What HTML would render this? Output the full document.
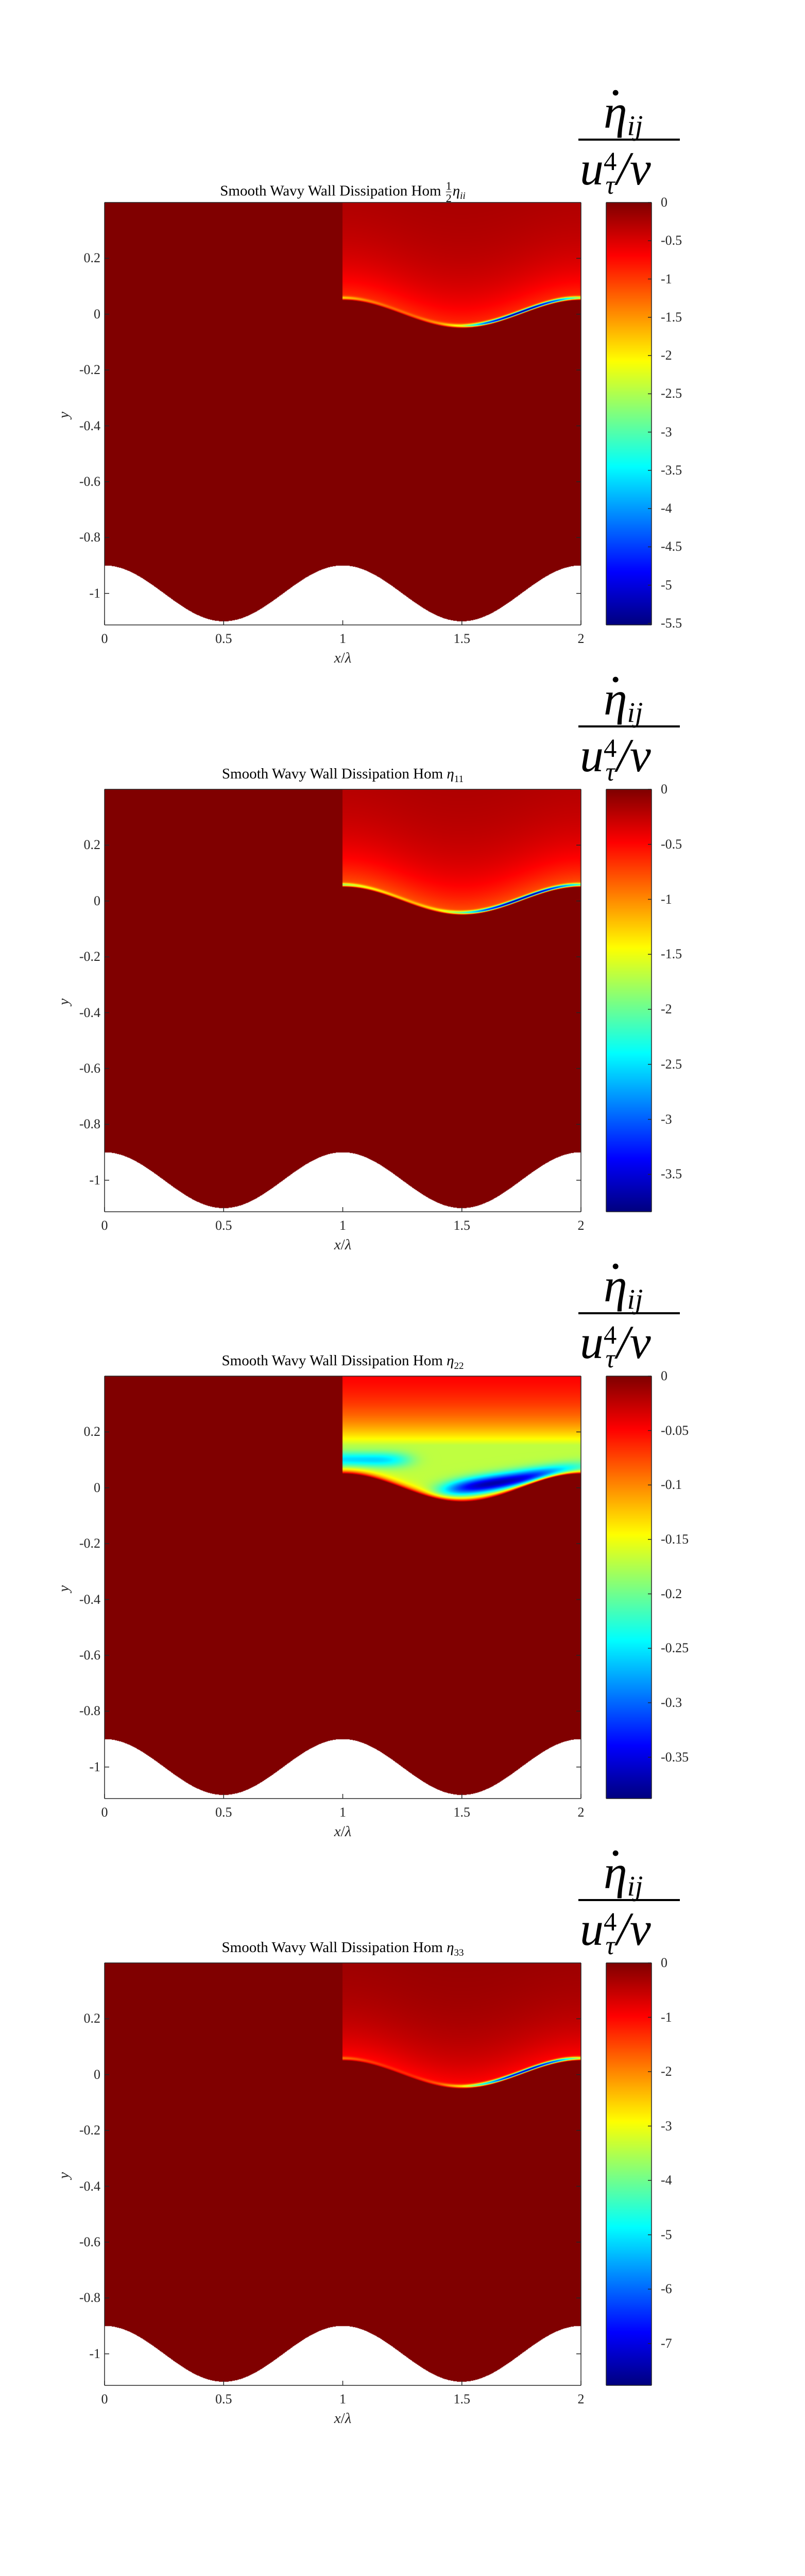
<!DOCTYPE html>
<html><head><meta charset="utf-8">
<style>
html,body{margin:0;padding:0;background:#fff;}
html{width:1563px;height:5208px;overflow:hidden;}
body{width:1563px;height:5208px;position:relative;overflow:hidden;font-family:"Liberation Serif","DejaVu Serif",serif;}
.abs{position:absolute;}
canvas{position:absolute;}
.t{position:absolute;color:#262626;font-size:26px;white-space:nowrap;line-height:1;}
.title{position:absolute;font-size:29px;white-space:nowrap;color:#000;line-height:1;transform:translateX(-50%);}
.cbl{position:absolute;font-style:italic;color:#000;white-space:nowrap;line-height:1;}
</style></head><body>
<div id="root"></div>
<script>
// ---- data ----
const panelTops = [393, 1532, 2671, 3810];
const xTicks = [0, 0.5, 1, 1.5, 2];
const xTickLabels = ["0", "0.5", "1", "1.5", "2"];
const yTicks = [0.2, 0, -0.2, -0.4, -0.6, -0.8, -1];
const yTickLabels = ["0.2", "0", "-0.2", "-0.4", "-0.6", "-0.8", "-1"];
const cMins = [-5.52, -3.84, -0.388, -7.77];
const cbTicks1 = [0,-0.5,-1,-1.5,-2,-2.5,-3,-3.5,-4,-4.5,-5,-5.5];
const cbTicks2 = [0,-0.5,-1,-1.5,-2,-2.5,-3,-3.5];
const cbTicks3 = [0,-0.05,-0.1,-0.15,-0.2,-0.25,-0.3,-0.35];
const cbTicks4 = [0,-1,-2,-3,-4,-5,-6,-7];
const cbTickSets = [cbTicks1, cbTicks2, cbTicks3, cbTicks4];
// near-wall band strength sampled at x = 1.0,1.1,...,2.0
const bandX = [1.0,1.1,1.2,1.3,1.4,1.5,1.6,1.7,1.8,1.9,2.0];
const band1 = [-1.5,-1.1,-0.9,-0.9,-1.2,-2.0,-4.3,-5.5,-5.4,-4.2,-2.2];
const band2 = [-1.6,-1.2,-1.0,-0.9,-1.1,-1.8,-3.0,-3.75,-3.7,-3.0,-1.9];
const band4 = [-1.5,-1.1,-0.9,-0.9,-1.3,-2.5,-5.0,-7.2,-7.6,-6.0,-3.0];
const bands = [band1, band2, null, band4];
// outer-region values: [top value, near-wall value]
const outer1 = [-0.2, -1.0];
const outer2 = [-0.15, -0.85];
const outer4 = [-0.15, -1.1];
const outers = [outer1, outer2, null, outer4];
// panel 3 blobs: [xc, yc, amp, sx, sy, slope]
const blob3a = [1.08, 0.10, -0.09, 0.2, 0.028, 0.0];
const blob3b = [1.72, 0.025, -0.21, 0.3, 0.032, 0.12];

// ---- geometry ----
const L=203, R=1128, W=R-L, H=820, YMAX=0.4, YMIN=-1.113;
const CBL=1177, CBR=1265;
function sx(x){return L + x/2*W;}
function sy(y,T){return T + (YMAX-y)/(YMAX-YMIN)*H;}
function jet(t){
  t=Math.max(0,Math.min(1,t));
  const c=v=>Math.max(0,Math.min(1,v));
  return [c(1.5-Math.abs(4*t-3)),c(1.5-Math.abs(4*t-2)),c(1.5-Math.abs(4*t-1))];
}
function interp(xs,vs,x){
  if(x<=xs[0])return vs[0];
  for(let i=1;i<xs.length;i++){ if(x<=xs[i]){const f=(x-xs[i-1])/(xs[i]-xs[i-1]);return vs[i-1]*(1-f)+vs[i]*f;} }
  return vs[vs.length-1];
}
function wallY(x){return -1+0.1*Math.cos(2*Math.PI*x);}
function bY(x){return 0.05*Math.cos(2*Math.PI*x);}
function field(p,x,y){
  if(x<1) return 0;
  const u=y-bY(x);
  if(u<0) return 0;
  if(p===2){
    let v=Math.max(-0.17,-0.03-0.5*Math.exp(-y/0.12));
    for(const b of [blob3a,blob3b]){
      const dx=(x-b[0])/b[3], dy=(y-(b[1]+b[5]*(x-b[0])))/b[4];
      v+=b[2]*Math.exp(-dx*dx*dx*dx-dy*dy);
    }
    return v*(1-Math.exp(-u/0.012));
  }
  const o=outers[p];
  let v=o[0]+(o[1]-o[0])*Math.exp(-u/0.14);
  const a=interp(bandX,bands[p],x);
  const d=(u-0.008)/0.006;
  v+= (a-o[1]*0.5)*Math.exp(-d*d);
  v*= (1-Math.exp(-u/0.003));
  return v;
}

const root=document.getElementById('root');
function mk(tag,name,inter,parent){
  const e=document.createElement(tag);
  
  
  (parent||root).appendChild(e); return e;
}
const titles=[
 'Smooth Wavy Wall Dissipation Hom <span style="display:inline-block;vertical-align:middle;text-align:center;font-size:22px;line-height:1.05;margin:0 2px"><span style="display:block">1</span><span style="display:block;border-top:1.5px solid #000">2</span></span><i>η</i><sub style="font-size:19px"><i>ii</i></sub>',
 'Smooth Wavy Wall Dissipation Hom <i>η</i><sub style="font-size:19px">11</sub>',
 'Smooth Wavy Wall Dissipation Hom <i>η</i><sub style="font-size:19px">22</sub>',
 'Smooth Wavy Wall Dissipation Hom <i>η</i><sub style="font-size:19px">33</sub>'
];

panelTops.forEach((T,p)=>{
  const panel=mk('div','panel-'+(p+1),'false');
  const cv=mk('canvas','heatmap-'+(p+1),'false',panel);
  cv.width=W; cv.height=H; cv.style.left=L+'px'; cv.style.top=T+'px';
  const ctx=cv.getContext('2d'); const img=ctx.createImageData(W,H);
  const cmin=cMins[p];
  for(let j=0;j<H;j++){
    const y=YMAX-(j+0.5)/H*(YMAX-YMIN);
    for(let i=0;i<W;i++){
      const x=(i+0.5)/W*2; const k=(j*W+i)*4;
      if(y<wallY(x)){img.data[k]=255;img.data[k+1]=255;img.data[k+2]=255;img.data[k+3]=255;continue;}
      const v=field(p,x,y); const c=jet((v-cmin)/(0-cmin));
      img.data[k]=c[0]*255;img.data[k+1]=c[1]*255;img.data[k+2]=c[2]*255;img.data[k+3]=255;
    }
  }
  ctx.putImageData(img,0,0);
  const cb=mk('canvas','colorbar-'+(p+1),'false',panel);
  cb.width=CBR-CBL; cb.height=H; cb.style.left=CBL+'px'; cb.style.top=T+'px';
  const c2=cb.getContext('2d');
  for(let j=0;j<H;j++){const c=jet(1-(j+0.5)/H);c2.fillStyle='rgb('+(c[0]*255|0)+','+(c[1]*255|0)+','+(c[2]*255|0)+')';c2.fillRect(0,j,CBR-CBL,1);}
  const NS='http://www.w3.org/2000/svg';
  const svg=document.createElementNS(NS,'svg');
  
  
  svg.setAttribute('width',1563);svg.setAttribute('height',H+20);
  svg.style.position='absolute';svg.style.left='0';svg.style.top=(T-10)+'px';
  panel.appendChild(svg);
  const ln=(x1,y1,x2,y2,name,w)=>{const l=document.createElementNS(NS,'line');
    
    
    l.setAttribute('x1',x1);l.setAttribute('y1',y1-T+10);l.setAttribute('x2',x2);l.setAttribute('y2',y2-T+10);
    l.setAttribute('stroke','#262626');l.setAttribute('stroke-width',w||1.5);svg.appendChild(l);};
  ln(L,T,L,T+H,'y-axis-line');ln(L,T+H,R,T+H,'x-axis-line');ln(R,T,R,T+H,'right-axis-line');ln(L,T,R,T,'top-axis-line');
  ln(CBL,T,CBL,T+H,'colorbar-border');ln(CBR,T,CBR,T+H,'colorbar-border');ln(CBL,T,CBR,T,'colorbar-border');ln(CBL,T+H,CBR,T+H,'colorbar-border');
  xTicks.forEach((xv,i)=>{
    const px=sx(xv); ln(px,T+H,px,T+H-9,'x-tick');
    const t=mk('div','x-tick-label','false',panel); t.className='t'; t.textContent=xTickLabels[i];
    t.style.left=px+'px'; t.style.top=(T+H+14)+'px'; t.style.transform='translateX(-50%)';
  });
  yTicks.forEach((yv,i)=>{
    const py=sy(yv,T); ln(L,py,L+9,py,'y-tick'); ln(R,py,R-9,py,'y-tick');
    const t=mk('div','y-tick-label','false',panel); t.className='t'; t.textContent=yTickLabels[i];
    t.style.right=(1563-L+8)+'px'; t.style.top=(py-13)+'px';
  });
  cbTickSets[p].forEach(v=>{
    const py=T+(v/cmin)*H; ln(CBR,py,CBR-7,py,'colorbar-tick');
    const t=mk('div','colorbar-tick-label','false',panel); t.className='t'; t.textContent=String(v);
    t.style.left='1283px'; t.style.top=(py-13)+'px';
  });
  const xl=mk('div','x-axis-title','false',panel); xl.className='t'; xl.innerHTML='<i>x</i>/<i>λ</i>';
  xl.style.fontSize='29px'; xl.style.left=(L+W/2)+'px'; xl.style.top=(T+H+50)+'px'; xl.style.transform='translateX(-50%)';
  const yl=mk('div','y-axis-title','false',panel); yl.className='t'; yl.innerHTML='<i>y</i>';
  yl.style.fontSize='29px'; yl.style.left='118px'; yl.style.top=(T+H/2-12)+'px'; yl.style.transform='rotate(-90deg)';
  const ti=mk('div','chart-title','false',panel); ti.className='title'; ti.innerHTML=titles[p];
  ti.style.left=(L+W/2)+'px'; ti.style.top=(T-44)+'px';
  const num=mk('div','colorbar-label-numerator','false',panel); num.className='cbl';
  num.innerHTML='<span style="position:relative">η<span style="position:absolute;left:0.33em;top:-0.2em;font-style:normal;font-size:0.5em">•</span></span><span style="font-size:0.6em;vertical-align:-0.25em">ij</span>';
  num.style.fontSize='92px'; num.style.left='1172px'; num.style.top=(T-222)+'px';
  const bar=mk('div','colorbar-label-fraction-line','false',panel); bar.className='abs';
  bar.style.left='1123px'; bar.style.width='197px'; bar.style.top=(T-124)+'px'; bar.style.height='4px'; bar.style.background='#000';
  const den=mk('div','colorbar-label-denominator','false',panel); den.className='cbl';
  den.innerHTML='u<span style="display:inline-block;vertical-align:middle;font-style:normal;font-size:0.55em;line-height:0.9;text-align:center"><span style="display:block">4</span><span style="display:block;font-style:italic">τ</span></span>/<span>ν</span>';
  den.style.fontSize='92px'; den.style.left='1126px'; den.style.top=(T-112)+'px';
});
</script>
</body></html>
